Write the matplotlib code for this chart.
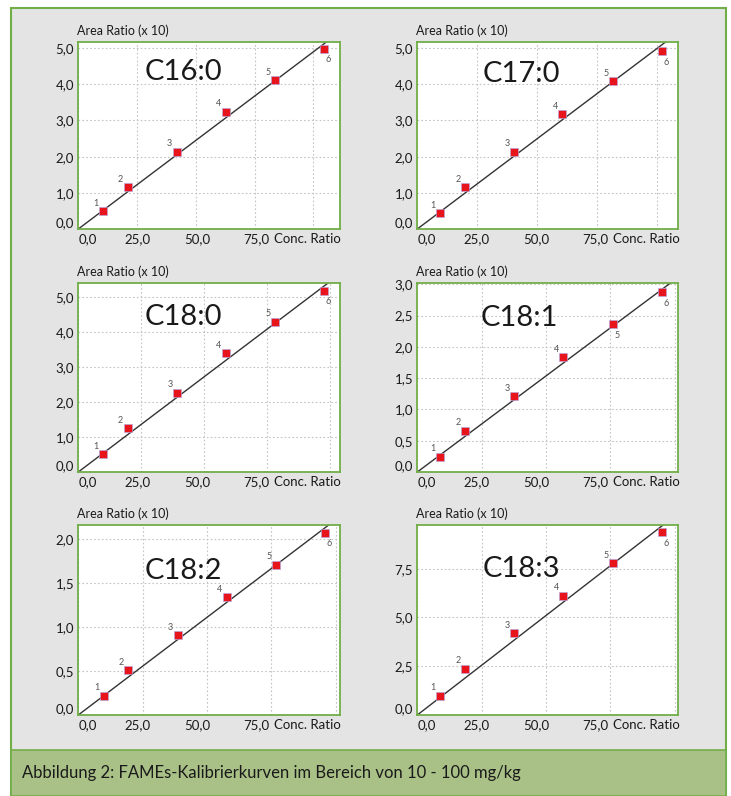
import matplotlib.pyplot as plt
from matplotlib.patches import Rectangle
from matplotlib.transforms import ScaledTranslation
import numpy as np

plt.rcParams['font.family'] = ['Lato', 'DejaVu Sans']

W, H = 731, 796

# Kalibrierdaten
names = ['C16:0', 'C17:0', 'C18:0', 'C18:1', 'C18:2', 'C18:3']
conc_c160 = [10.6, 21.0, 41.8, 62.7, 83.8, 104.5]
area_c160 = [0.49, 1.16, 2.14, 3.24, 4.11, 4.98]
conc_c170 = [9.4, 19.9, 40.3, 60.4, 81.7, 101.8]
area_c170 = [0.44, 1.16, 2.14, 3.17, 4.08, 4.92]
conc_c180 = [9.9, 19.6, 39.3, 58.6, 78.2, 97.5]
area_c180 = [0.51, 1.25, 2.27, 3.39, 4.29, 5.18]
conc_c181 = [8.8, 18.5, 37.6, 56.7, 76.2, 95.2]
area_c181 = [0.24, 0.66, 1.21, 1.83, 2.36, 2.87]
conc_c182 = [10.0, 19.4, 38.6, 57.6, 76.8, 95.9]
area_c182 = [0.22, 0.51, 0.905, 1.34, 1.71, 2.07]
conc_c183 = [8.8, 18.5, 37.6, 56.7, 76.2, 95.2]
area_c183 = [0.99, 2.38, 4.18, 6.11, 7.78, 9.38]
slopes = [0.049, 0.050, 0.0544, 0.0307, 0.0222, 0.102]

xmax = [111.3, 108.7, 104.0, 101.4, 101.7, 101.4]
ymax = [5.17, 5.17, 5.4, 3.02, 2.16, 9.74]
yticks = [np.arange(0, 5.01, 1.0), np.arange(0, 5.01, 1.0), np.arange(0, 5.01, 1.0),
          np.arange(0, 3.01, 0.5), np.arange(0, 2.01, 0.5), [0, 2.5, 5.0, 7.5]]
xticks = [0, 25, 50, 75, 100]
xticklabels = ['0,0', '25,0', '50,0', '75,0', '']
title_pos = [(0.40, 0.84), (0.40, 0.83), (0.40, 0.82), (0.39, 0.815), (0.40, 0.76), (0.40, 0.77)]
below_points = [[6], [6], [6], [5, 6], [6], [6]]

data = [(conc_c160, area_c160), (conc_c170, area_c170), (conc_c180, area_c180),
        (conc_c181, area_c181), (conc_c182, area_c182), (conc_c183, area_c183)]

# Achsenpositionen in Pixeln: links, rechts, oben, unten
cols = [(78.3, 340.0), (417.3, 678.3)]
rows = [(42, 229), (283, 472), (525, 715)]
label_step = 59.5  # Abstand der x-Beschriftungen in Pixeln

green = '#72ae48'

fig = plt.figure(figsize=(W / 100, H / 100), dpi=100)
fig.patch.set_facecolor('white')

# Rahmen und Bildunterschrift
fig.patches.append(Rectangle((11 / W, 0), (726 - 11) / W, (H - 8) / H, transform=fig.transFigure,
                             facecolor='#e4e4e4', edgecolor=green, lw=1.5, zorder=-10))
fig.patches.append(Rectangle((11 / W, 0), (726 - 11) / W, (H - 750) / H, transform=fig.transFigure,
                             facecolor='#a9c187', edgecolor=green, lw=1.2, zorder=-9))
fig.text(22 / W, 1 - 773 / H, 'Abbildung 2: FAMEs-Kalibrierkurven im Bereich von 10 - 100 mg/kg',
         fontsize=12, color='#1a1a1a', ha='left', va='center')

for i, name in enumerate(names):
    r, c = divmod(i, 2)
    left, right = cols[c]
    top, bottom = rows[r]
    ax = fig.add_axes([left / W, 1 - bottom / H, (right - left) / W, (bottom - top) / H])
    ax.set_facecolor('white')
    x, y = data[i]

    ax.set_xlim(0, xmax[i])
    ax.set_ylim(0, ymax[i])
    ax.set_xticks(xticks)
    ax.set_xticklabels(xticklabels)
    ax.set_yticks(yticks[i])
    ax.set_yticklabels([f'{v:.1f}'.replace('.', ',') for v in yticks[i]])
    ax.tick_params(length=0, labelsize=9.5, pad=3, colors='#1a1a1a')
    ax.get_xticklabels()[0].set_horizontalalignment('left')
    ax.get_yticklabels()[0].set_verticalalignment('bottom')

    # x-Beschriftungen sitzen im Original in festem Pixelabstand
    ppu = (right - left) / xmax[i]
    for j, lab in enumerate(ax.get_xticklabels()):
        dx = (j * label_step - xticks[j] * ppu) / 100
        lab.set_transform(lab.get_transform() + ScaledTranslation(dx, 0, fig.dpi_scale_trans))

    ax.grid(True, color='#c4c4c4', linestyle=(0, (1.5, 2)), lw=0.8)
    ax.set_axisbelow(True)
    for s in ax.spines.values():
        s.set_color(green)
        s.set_linewidth(1.3)

    xl = np.array([0, xmax[i] * 1.2])
    ax.plot(xl, slopes[i] * xl, color='#333333', lw=1.0, zorder=2)
    ax.plot(x, y, 's', color='#e8141c', markersize=6, markeredgecolor='#b4a6e0',
            markeredgewidth=0.45, zorder=3)

    for k, (xv, yv) in enumerate(zip(x, y), start=1):
        off = (4, -11) if k in below_points[i] else (-7, 8)
        ax.annotate(str(k), (xv, yv), xytext=off, textcoords='offset pixels',
                    ha='center', va='center', fontsize=6.5, color='#555555')

    ax.text(title_pos[i][0], title_pos[i][1], name, transform=ax.transAxes,
            ha='center', va='center', fontsize=21, color='#1a1a1a')

    ax.annotate('Area Ratio (x 10)', (0, 1), xycoords='axes fraction', xytext=(-1, 5),
                textcoords='offset pixels', ha='left', va='bottom', fontsize=9, color='#1a1a1a')
    ax.annotate('Conc. Ratio', (1, 0), xycoords='axes fraction', xytext=(1, -4),
                textcoords='offset pixels', ha='right', va='top', fontsize=9.5, color='#1a1a1a')

fig.savefig('out.png', dpi=100)
